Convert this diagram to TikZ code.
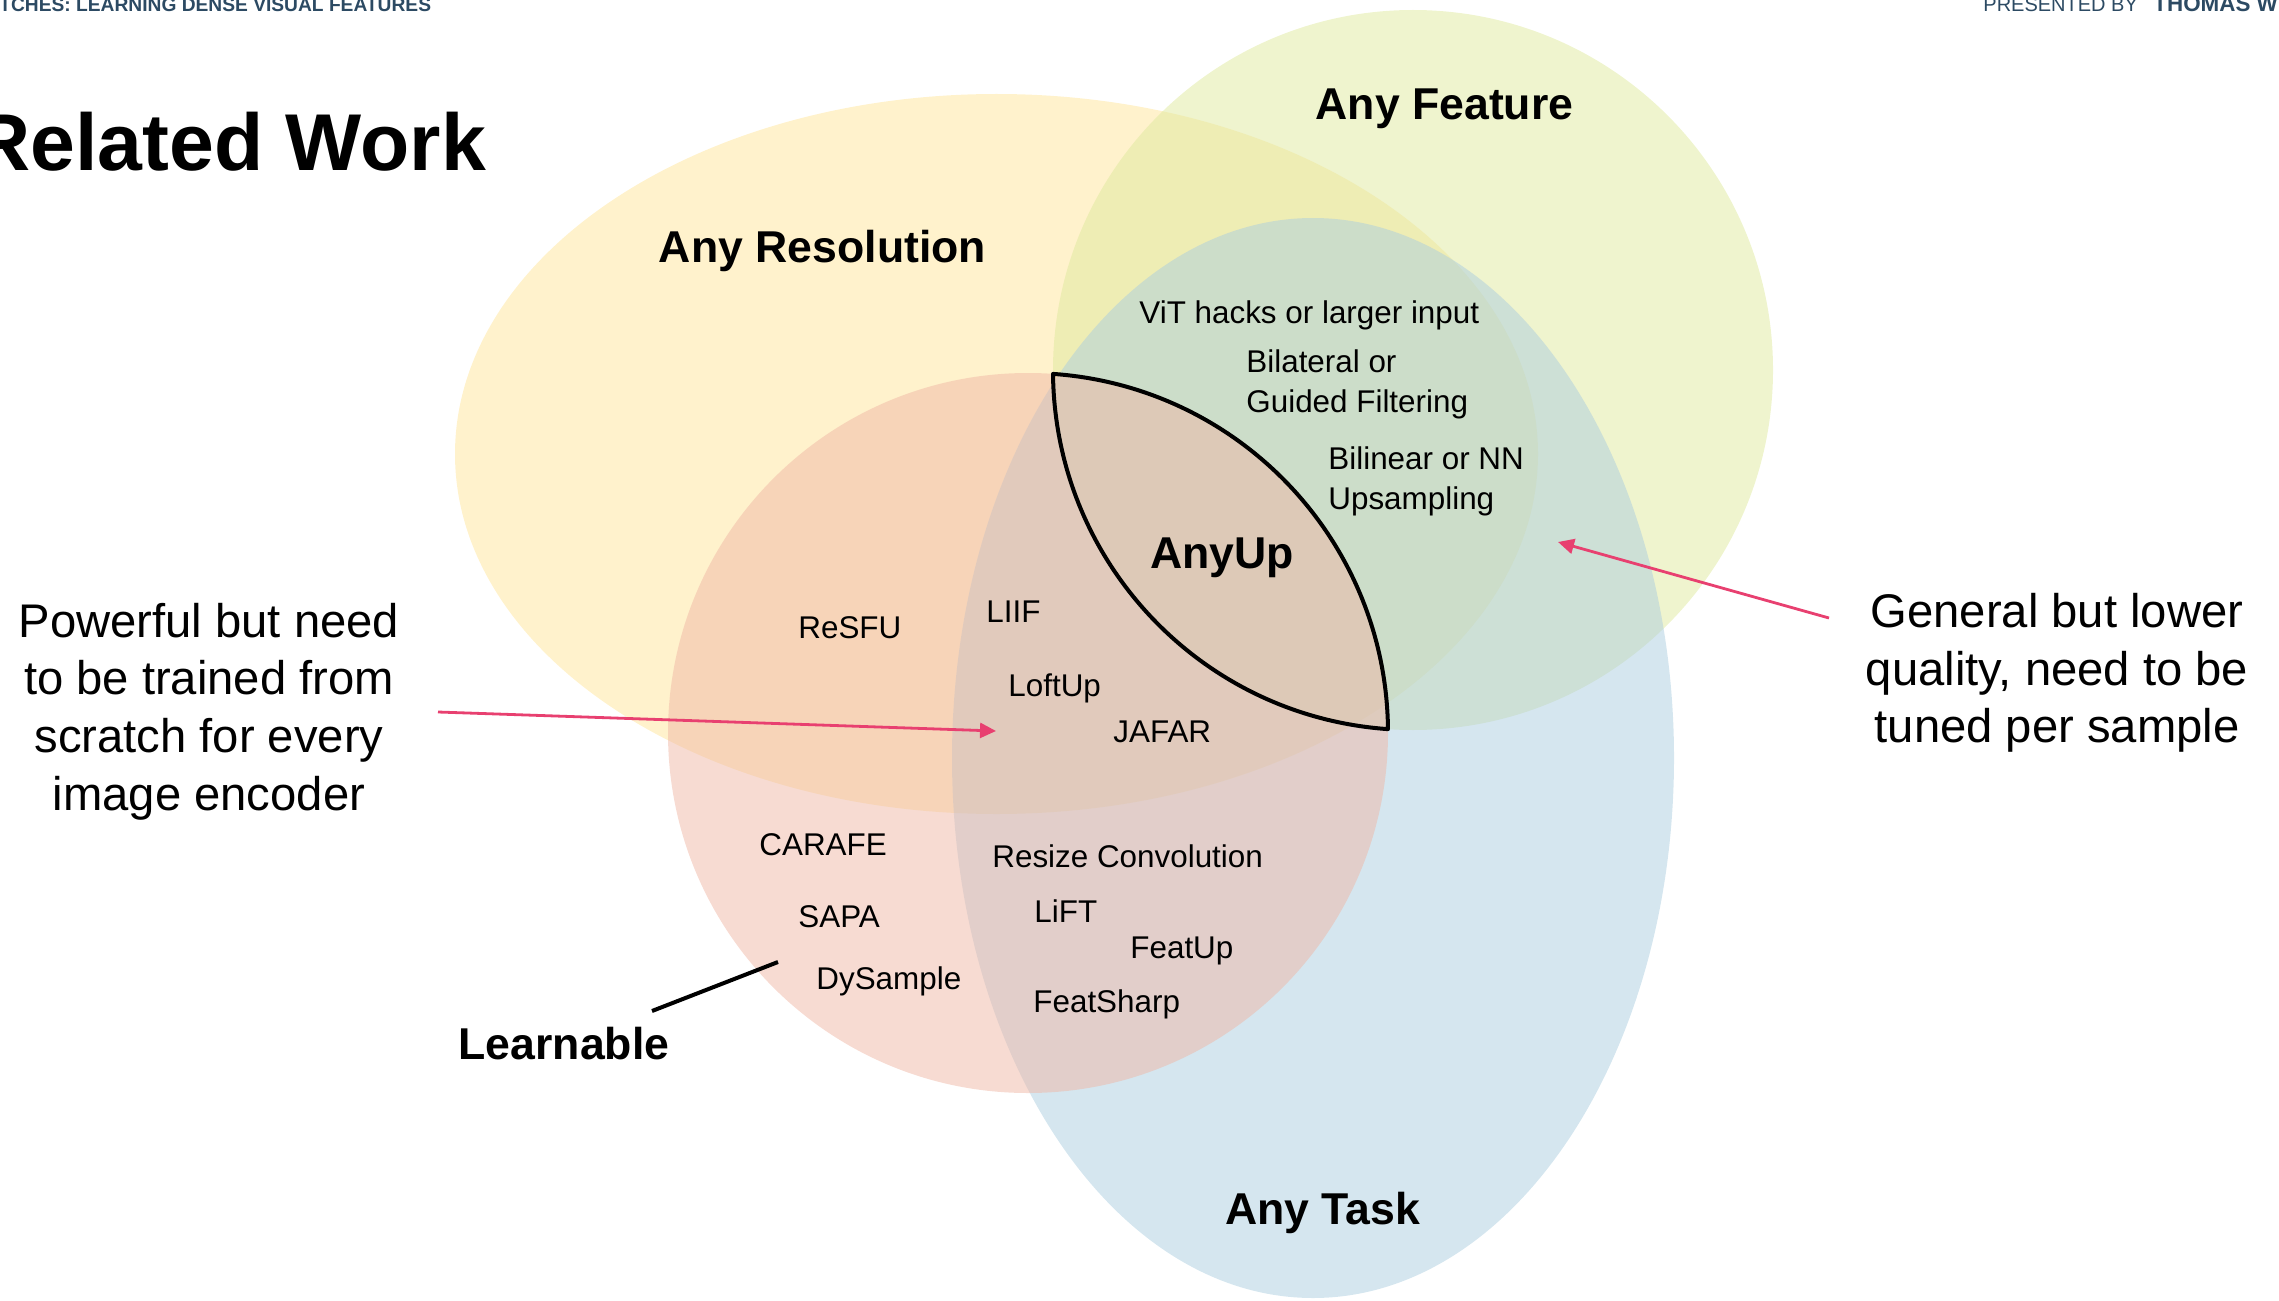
\documentclass[tikz,border=0pt]{standalone}
\usepackage{fontspec}
\setmainfont{Liberation Sans}
\usetikzlibrary{arrows.meta}

\definecolor{resfill}{RGB}{255,229,153}
\definecolor{featfill}{RGB}{223,233,157}
\definecolor{taskfill}{RGB}{171,205,223}
\definecolor{learnfill}{RGB}{239,183,165}
\definecolor{callout}{RGB}{232,64,112}
\definecolor{headerblue}{RGB}{44,74,99}

\begin{document}
\begin{tikzpicture}[x=0.5pt,y=-0.5pt,
  setarea/.style={fill=#1, fill opacity=0.5, draw=none},
  setname/.style={font=\fontsize{22.3pt}{26pt}\selectfont\bfseries, anchor=base, inner sep=0pt},
  method/.style={font=\fontsize{15.7pt}{20pt}\selectfont, anchor=base west, inner sep=0pt},
  methodpair/.style={font=\fontsize{15.7pt}{20pt}\selectfont, anchor=north west, inner sep=0pt, align=left},
  remark/.style={font=\fontsize{23.6pt}{28.9pt}\selectfont, anchor=north, inner sep=0pt, align=center},
  pointer/.style={draw=callout, line width=1.4pt, -{Triangle[length=8pt,width=7.5pt]}},
  headline/.style={text=headerblue, anchor=base west, inner sep=0pt},
]
\useasboundingbox (0,0) rectangle (2279,1300);
\clip (0,0) rectangle (2279,1300);

% the four sets, translucent so that overlaps blend
\fill[setarea=resfill]   (996.5,454) ellipse [x radius=541.5, y radius=360];
\fill[setarea=featfill]  (1413,370)  circle [radius=360];
\fill[setarea=taskfill]  (1313,758)  ellipse [x radius=361, y radius=540];
\fill[setarea=learnfill] (1028,733)  circle [radius=360];

% lens where "Any Feature" meets "Learnable"
\draw[line width=2pt, line join=round]
  (1053,373.9) arc [start angle=-86.02, end angle=-0.62, radius=360]
               arc [start angle=93.98, end angle=179.38, radius=360] -- cycle;

% slide header
\node[headline, font=\fontsize{9.6pt}{11pt}\selectfont\bfseries] (hdrleft) at (-1,12)
  {TCHES: LEARNING DENSE VISUAL FEATURES};
\node[headline, font=\fontsize{10pt}{12pt}\selectfont] (hdrby) at (1983,12)
  {PRESENTED BY};
\node[headline, font=\fontsize{11.2pt}{13pt}\selectfont\bfseries] (hdrname) at (2153,12)
  {THOMAS W};
\node[anchor=base west, inner sep=0pt, font=\fontsize{40.3pt}{48pt}\selectfont\bfseries] (title)
  at (-28,171) {Related Work};

% set names
\node[setname] (anyfeat) at (1444.5,120)  {Any Feature};
\node[setname] (anyres)  at (822.5,263)   {Any Resolution};
\node[setname] (anytask) at (1322.5,1224) {Any Task};
\node[setname] (anyup)   at (1222,568)    {AnyUp};
\node[setname] (learn)   at (564,1059)    {Learnable};

% methods
\node[method] (vit)    at (1139,323) {ViT hacks or larger input};
\node[methodpair] (bilat) at (1246,349.4) {Bilateral or\\Guided Filtering};
\node[methodpair] (bilin) at (1328,446.4) {Bilinear or NN\\Upsampling};
\node[method] (resfu)  at (798,638)  {ReSFU};
\node[method] (liif)   at (986,622)  {LIIF};
\node[method] (loftup) at (1008,696) {LoftUp};
\node[method] (jafar)  at (1113,742) {JAFAR};
\node[method] (carafe) at (759,855)  {CARAFE};
\node[method] (resize) at (992,867)  {Resize Convolution};
\node[method] (sapa)   at (798,927)  {SAPA};
\node[method] (lift)   at (1034,922) {LiFT};
\node[method] (featup) at (1130,958) {FeatUp};
\node[method] (dysamp) at (816,989)  {DySample};
\node[method] (fsharp) at (1033,1012) {FeatSharp};

% side remarks
\node[remark] (powerful) at (209,602.4)
  {Powerful but need\\to be trained from\\scratch for every\\image encoder};
\node[remark] (general) at (2057,592.7)
  {General but lower\\quality, need to be\\tuned per sample};

% connectors
\coordinate (lefttail)  at (438,712);
\coordinate (lefthead)  at (996,731);
\coordinate (righttail) at (1829,618);
\coordinate (righthead) at (1558,542);
\coordinate (learnfoot) at (652,1011);
\coordinate (learnend)  at (778,962);

\draw[pointer] (lefttail) -- (lefthead);
\draw[pointer] (righttail) -- (righthead);
\draw[line width=2pt] (learnfoot) -- (learnend);
\end{tikzpicture}
\end{document}
